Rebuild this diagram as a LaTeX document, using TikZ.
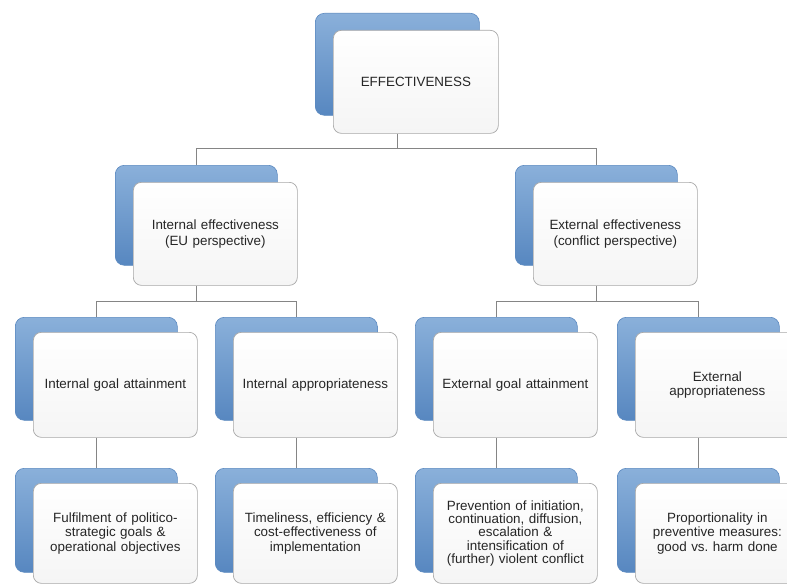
\documentclass[tikz,border=0pt]{standalone}
\usepackage{fontspec}
\setmainfont{Liberation Sans}
\definecolor{bluetop}{HTML}{8AB0DA}
\definecolor{bluebot}{HTML}{5787C0}
\definecolor{blueedge}{HTML}{5B89C0}
\definecolor{frontedge}{HTML}{A8A8A8}
\definecolor{frontbot}{HTML}{F5F5F5}
\definecolor{connc}{HTML}{858585}
\tikzset{
  backbox/.style={rounded corners=9pt, draw=blueedge, line width=0.6pt,
    top color=bluetop, bottom color=bluebot, anchor=north west,
    inner sep=0pt, minimum width=162pt, minimum height=103pt},
  frontbox/.style={rounded corners=8pt, draw=frontedge, line width=0.7pt,
    top color=white, bottom color=frontbot, anchor=north west,
    inner sep=2pt, minimum width=164pt, minimum height=103pt,
    align=center, text width=160pt,
    font=\fontsize{13.4}{14.4}\selectfont, text=black!85},
  conn/.style={draw=connc, line width=0.8pt}
}
\begin{document}
\begin{tikzpicture}[x=1pt,y=-1pt]
\useasboundingbox (0,0) rectangle (787,586);
\fill[white] (0,0) rectangle (787,586);

% level 1
\node[backbox, minimum width=164pt, minimum height=102pt] (b0) at (315,13) {};
\node[frontbox, minimum width=165pt] (f0) at (333,30) {EFFECTIVENESS};

% level 2
\node[backbox, minimum height=100pt] (bL) at (115,165) {};
\node[frontbox] (fL) at (133,182) {Internal effectiveness\\[1.5pt](EU perspective)};
\node[backbox, minimum height=100pt] (bR) at (515,165) {};
\node[frontbox] (fR) at (533,182) {External effectiveness\\[1.5pt](conflict perspective)};

% level 3
\node[backbox] (b1) at (15,317) {};
\node[frontbox, minimum height=105pt] (f1) at (33,332) {Internal goal attainment};
\node[backbox] (b2) at (215,317) {};
\node[frontbox, minimum height=105pt] (f2) at (233,332) {Internal appropriateness};
\node[backbox] (b3) at (415,317) {};
\node[frontbox, minimum height=105pt] (f3) at (433,332) {External goal attainment};
\node[backbox] (b4) at (617,317) {};
\node[frontbox, minimum height=105pt] (f4) at (635,332) {External\\appropriateness};

% level 4
\node[backbox, minimum height=104pt] (c1) at (15,468) {};
\node[frontbox, minimum height=100pt] (g1) at (33,483) {Fulfilment of politico-\\strategic goals \&\\operational objectives};
\node[backbox, minimum height=104pt] (c2) at (215,468) {};
\node[frontbox, minimum height=100pt] (g2) at (233,483) {Timeliness, efficiency \&\\cost-effectiveness of\\implementation};
\node[backbox, minimum height=104pt] (c3) at (415,468) {};
\node[frontbox, minimum height=100pt, font=\fontsize{13.4}{13.4}\selectfont] (g3) at (433,483) {Prevention of initiation,\\continuation, diffusion,\\escalation \&\\intensification of\\(further) violent conflict};
\node[backbox, minimum height=104pt] (c4) at (617,468) {};
\node[frontbox, minimum height=100pt] (g4) at (635,483) {Proportionality in\\preventive measures:\\good vs.~harm done};

% connector levels
\coordinate (h1) at (0,148);
\coordinate (h2) at (0,301);

% level 1 -> 2
\draw[conn] (f0.south -| b0.south) -- (b0.south |- h1);
\draw[conn] (bL.north) -- (bL.north |- h1) -- (bR.north |- h1) -- (bR.north);

% level 2 -> 3
\draw[conn] (fL.south -| bL.south) -- (bL.south |- h2);
\draw[conn] (b1.north) -- (b1.north |- h2) -- (b2.north |- h2) -- (b2.north);
\draw[conn] (fR.south -| bR.south) -- (bR.south |- h2);
\draw[conn] (b3.north) -- (b3.north |- h2) -- (b4.north |- h2) -- (b4.north);

% level 3 -> 4
\draw[conn] (f1.south -| b1.south) -- (c1.north);
\draw[conn] (f2.south -| b2.south) -- (c2.north);
\draw[conn] (f3.south -| b3.south) -- (c3.north);
\draw[conn] (f4.south -| b4.south) -- (c4.north);
\end{tikzpicture}
\end{document}
